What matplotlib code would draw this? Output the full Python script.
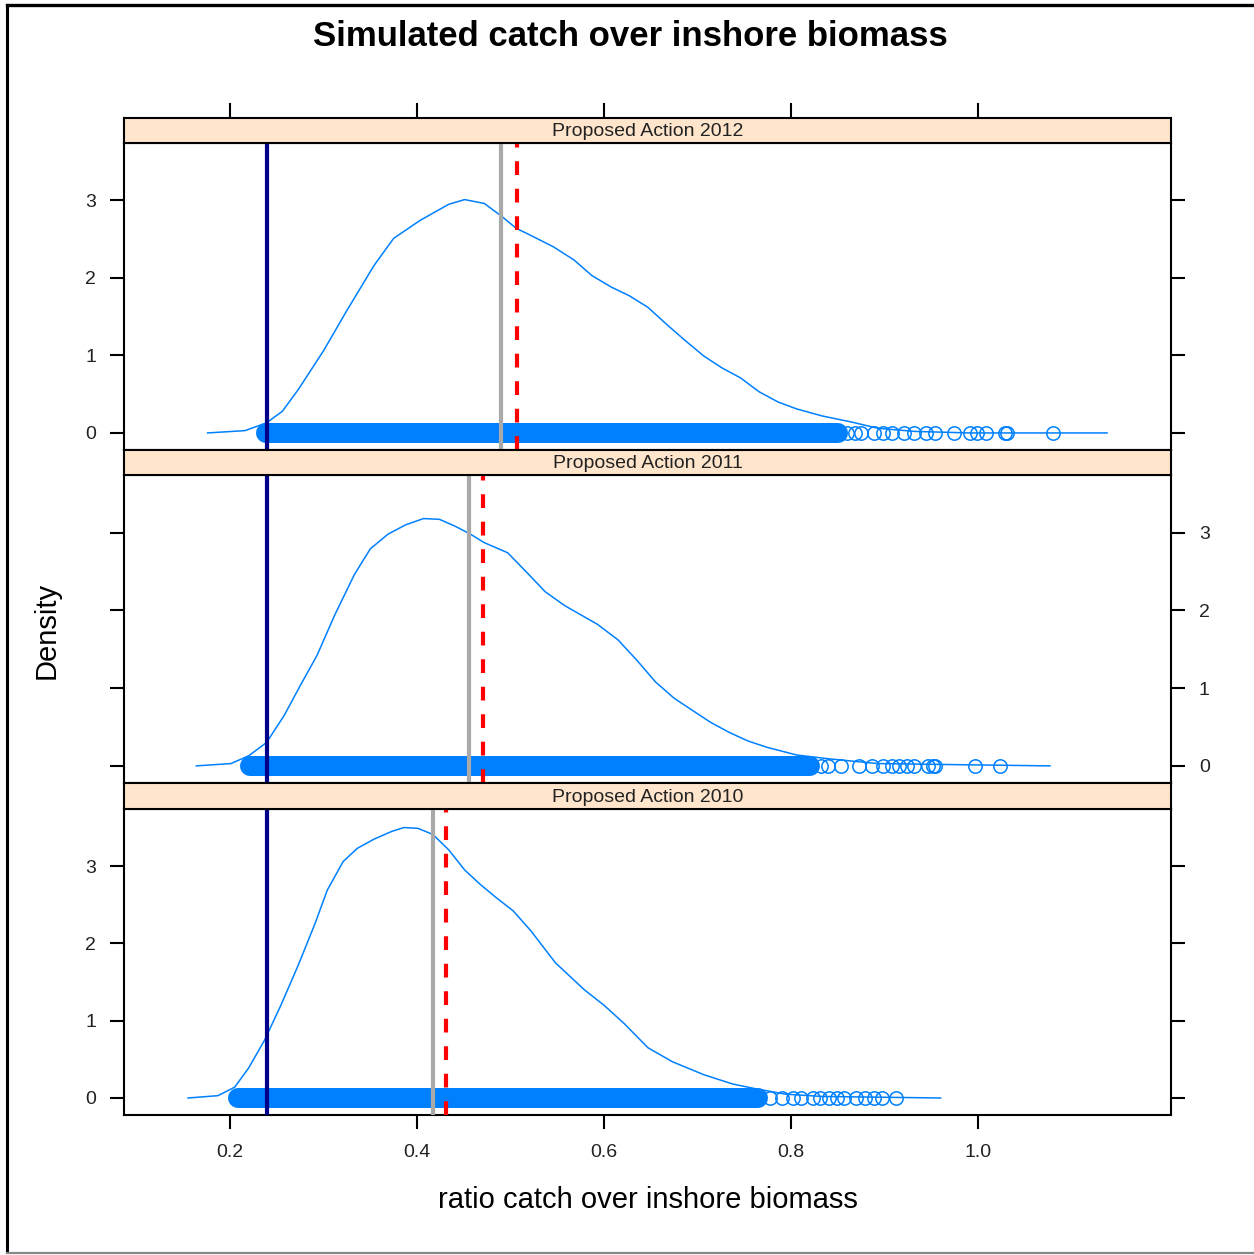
import matplotlib
matplotlib.use("Agg")
import matplotlib.pyplot as plt
from matplotlib.lines import Line2D

plt.rcParams['font.family'] = ['Liberation Sans', 'DejaVu Sans']

# ---------------- data ----------------
panel_titles = ["Proposed Action 2012", "Proposed Action 2011", "Proposed Action 2010"]

dens_x_2012 = [0.176, 0.216, 0.239, 0.256, 0.273, 0.300, 0.325, 0.354, 0.375, 0.403, 0.434, 0.451,
               0.472, 0.491, 0.506, 0.518, 0.546, 0.568, 0.587, 0.608, 0.627, 0.647, 0.667, 0.687,
               0.707, 0.726, 0.746, 0.766, 0.786, 0.806, 0.833, 0.865, 0.893, 0.932, 0.991, 1.138]
dens_y_2012 = [0.0, 0.03, 0.13, 0.28, 0.56, 1.06, 1.58, 2.16, 2.51, 2.74, 2.95, 3.01,
               2.96, 2.79, 2.64, 2.57, 2.40, 2.23, 2.03, 1.88, 1.77, 1.62, 1.40, 1.19,
               0.99, 0.84, 0.71, 0.53, 0.40, 0.31, 0.22, 0.14, 0.06, 0.02, 0.0, 0.0]

dens_x_2011 = [0.164, 0.201, 0.220, 0.239, 0.258, 0.275, 0.293, 0.312, 0.333, 0.350, 0.369, 0.388,
               0.407, 0.424, 0.441, 0.457, 0.472, 0.497, 0.518, 0.537, 0.558, 0.593, 0.615, 0.635,
               0.655, 0.675, 0.695, 0.714, 0.734, 0.754, 0.774, 0.806, 0.841, 0.893, 0.952, 1.077]
dens_y_2011 = [0.0, 0.03, 0.13, 0.30, 0.65, 1.03, 1.42, 1.94, 2.46, 2.79, 2.98, 3.10,
               3.18, 3.17, 3.08, 2.98, 2.87, 2.74, 2.48, 2.24, 2.06, 1.82, 1.62, 1.36,
               1.08, 0.87, 0.71, 0.56, 0.43, 0.32, 0.24, 0.14, 0.09, 0.03, 0.02, 0.0]

dens_x_2010 = [0.155, 0.187, 0.205, 0.220, 0.237, 0.254, 0.273, 0.291, 0.304, 0.321, 0.336, 0.354,
               0.373, 0.386, 0.401, 0.417, 0.434, 0.451, 0.468, 0.485, 0.503, 0.522, 0.548, 0.579,
               0.600, 0.621, 0.647, 0.673, 0.707, 0.738, 0.762, 0.794, 0.833, 0.960]
dens_y_2010 = [0.0, 0.03, 0.14, 0.39, 0.75, 1.19, 1.72, 2.26, 2.69, 3.06, 3.23, 3.35,
               3.45, 3.50, 3.49, 3.41, 3.21, 2.95, 2.76, 2.59, 2.42, 2.16, 1.75, 1.40,
               1.20, 0.97, 0.65, 0.47, 0.30, 0.18, 0.12, 0.05, 0.02, 0.0]

# dense run of overlapping simulated points (start, end) and sparse tail points
dense_2012 = [0.238, 0.850]
dense_2011 = [0.221, 0.820]
dense_2010 = [0.209, 0.765]
tail_2012 = [0.860, 0.868, 0.875, 0.889, 0.898, 0.908, 0.921, 0.932, 0.944, 0.954, 0.974, 0.991,
             0.999, 1.009, 1.029, 1.031, 1.080]
tail_2011 = [0.832, 0.840, 0.853, 0.873, 0.887, 0.898, 0.908, 0.916, 0.924, 0.932, 0.946, 0.952,
             0.954, 0.997, 1.023]
tail_2010 = [0.778, 0.790, 0.802, 0.811, 0.823, 0.831, 0.841, 0.849, 0.857, 0.869, 0.879, 0.889,
             0.897, 0.912]

ref_navy = [0.240, 0.240, 0.240]
ref_gray = [0.490, 0.456, 0.417]
ref_red = [0.507, 0.471, 0.431]

x_ticks = [0.2, 0.4, 0.6, 0.8, 1.0]
x_tick_labels = ["0.2", "0.4", "0.6", "0.8", "1.0"]
y_ticks = [0, 1, 2, 3]
y_tick_labels = ["0", "1", "2", "3"]

panels = [
    (dens_x_2012, dens_y_2012, dense_2012, tail_2012),
    (dens_x_2011, dens_y_2011, dense_2011, tail_2011),
    (dens_x_2010, dens_y_2010, dense_2010, tail_2010),
]

# ---------------- layout ----------------
W, H = 1254, 1255
fig = plt.figure(figsize=(W / 100, H / 100), dpi=100)
fig.patch.set_facecolor('white')


def box(l, t, r, b):
    return [l / W, 1 - b / H, (r - l) / W, (b - t) / H]


XL = (0.0866, 1.2064)
YL = (-0.22, 3.74)
BLUE = '#0080ff'
STRIP = '#ffe5cc'
TICKC = '#222222'

strip_boxes = [(124, 118, 1171, 143), (124, 450, 1171, 475), (124, 783, 1171, 809)]
plot_boxes = [(124, 143, 1171, 450), (124, 475, 1171, 783), (124, 809, 1171, 1115)]

for i, ((dx, dy, dense, tail), title) in enumerate(zip(panels, panel_titles)):
    ax = fig.add_axes(box(*plot_boxes[i]))
    ax.set_xlim(*XL)
    ax.set_ylim(*YL)
    # points band + tail
    ax.plot(dense, [0, 0], color=BLUE, lw=14.4, solid_capstyle='round', zorder=2)
    ax.plot(tail, [0] * len(tail), linestyle='none', marker='o', markersize=9.6,
            markerfacecolor='none', markeredgecolor=BLUE, markeredgewidth=1.1, zorder=2)
    # density curve
    ax.plot(dx, dy, color=BLUE, lw=1.1, zorder=3)
    # reference lines
    ax.axvline(ref_navy[i], color='#00008b', lw=3.0, zorder=4)
    ax.axvline(ref_gray[i], color='#a9a9a9', lw=3.0, zorder=4)
    ax.axvline(ref_red[i], color='#ff0000', lw=3.0, linestyle=(0, (3.3, 3.3)), zorder=4)

    for s in ax.spines.values():
        s.set_linewidth(1.5)
    ax.set_yticks(y_ticks)
    ax.set_yticklabels(y_tick_labels)
    ax.tick_params(axis='y', direction='out', length=10, width=1.5, pad=10,
                   labelsize=14, labelcolor=TICKC, left=True, right=True,
                   labelleft=(i != 1), labelright=(i == 1))
    ax.set_xticks(x_ticks)
    if i == 2:
        ax.set_xticklabels(x_tick_labels)
        ax.tick_params(axis='x', direction='out', length=10, width=1.5, pad=11,
                       labelsize=14, labelcolor=TICKC, bottom=True, top=False)
    else:
        ax.tick_params(axis='x', bottom=False, top=False, labelbottom=False)

    # strip
    sa = fig.add_axes(box(*strip_boxes[i]))
    sa.set_facecolor(STRIP)
    sa.set_xlim(*XL)
    sa.set_ylim(0, 1)
    sa.set_yticks([])
    for s in sa.spines.values():
        s.set_linewidth(1.5)
    if i == 0:
        sa.set_xticks(x_ticks)
        sa.tick_params(axis='x', direction='out', length=10.5, width=1.5, top=True,
                       bottom=False, labeltop=False, labelbottom=False)
    else:
        sa.set_xticks([])
    sa.text(0.5, 0.45, title, transform=sa.transAxes, ha='center', va='center',
            fontsize=14, color='#222222')

# titles and labels
fig.text(630 / W, 1 - 36 / H, "Simulated catch over inshore biomass", ha='center',
         va='center', fontsize=25, fontweight='bold', color='black')
fig.text(647.5 / W, 1 - 1200 / H, "ratio catch over inshore biomass", ha='center',
         va='center', fontsize=21, color='black')
fig.text(47 / W, 1 - 630 / H, "Density", ha='center', va='center', rotation=90,
         fontsize=21, color='black')

# outer frame (left, top black; bottom gray)
fig.add_artist(Line2D([7 / W, 7 / W], [1 - 5 / H, 1 - 1252 / H], color='black', lw=2.2,
                      transform=fig.transFigure))
fig.add_artist(Line2D([7 / W, 1.0], [1 - 5 / H, 1 - 5 / H], color='black', lw=2.4,
                      transform=fig.transFigure))
fig.add_artist(Line2D([7 / W, 1.0], [1 - 1252.5 / H, 1 - 1252.5 / H], color='#888888', lw=1.6,
                      transform=fig.transFigure))

fig.savefig("out.png", dpi=100)
